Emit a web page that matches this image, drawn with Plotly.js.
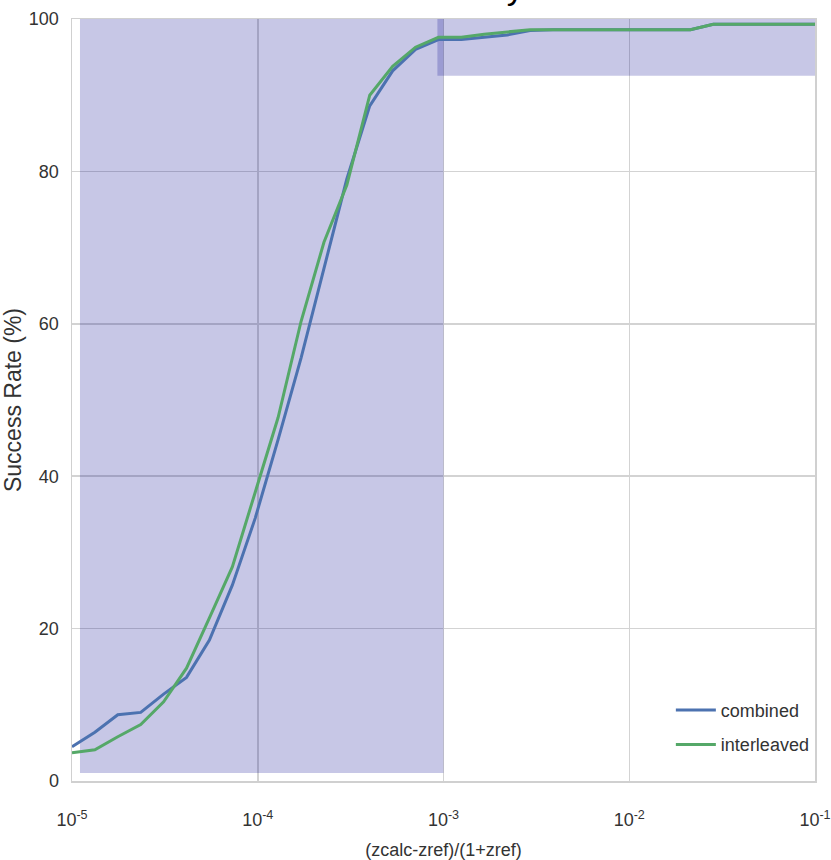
<!DOCTYPE html>
<html>
<head>
<meta charset="utf-8">
<script src="https://cdn.plot.ly/plotly-3.0.1.min.js"></script>
<style>
  html, body { margin: 0; padding: 0; background: #ffffff; }
  #chart { width: 831px; height: 860px; }
</style>
</head>
<body>
<div id="chart"></div>
<script>
// x: (zcalc-zref)/(1+zref), log-spaced sample points
const xValues = [
  1.000e-5, 1.328e-5, 1.764e-5, 2.344e-5, 3.113e-5, 4.135e-5, 5.493e-5, 7.297e-5,
  9.692e-5, 1.287e-4, 1.710e-4, 2.272e-4, 3.017e-4, 4.008e-4, 5.324e-4, 7.072e-4,
  9.393e-4, 1.248e-3, 1.657e-3, 2.201e-3, 2.924e-3, 3.884e-3, 5.159e-3, 6.853e-3,
  9.104e-3, 1.209e-2, 1.606e-2, 2.134e-2, 2.834e-2, 3.765e-2, 5.000e-2, 6.643e-2,
  8.824e-2, 1.172e-1
];
const combined = [
  4.5, 6.4, 8.7, 9.0, 11.4, 13.6, 18.5, 25.7,
  34.5, 44.8, 55.5, 67.2, 79.0, 88.6, 93.2, 96.0,
  97.3, 97.3, 97.6, 97.9, 98.5, 98.6, 98.6, 98.6,
  98.6, 98.6, 98.6, 98.6, 99.3, 99.3, 99.3, 99.3,
  99.3, 99.3
];
const interleaved = [
  3.7, 4.1, 5.8, 7.4, 10.4, 14.8, 21.4, 28.1,
  37.9, 47.7, 60.3, 70.7, 78.2, 90.0, 93.8, 96.3,
  97.6, 97.6, 98.0, 98.3, 98.6, 98.6, 98.6, 98.6,
  98.6, 98.6, 98.6, 98.6, 99.3, 99.3, 99.3, 99.3,
  99.3, 99.3
];
const seriesNames = ['combined', 'interleaved'];
const xTickVals = [1e-5, 1e-4, 1e-3, 1e-2, 1e-1];
const xTickText = ['10<sup>-5</sup>', '10<sup>-4</sup>', '10<sup>-3</sup>', '10<sup>-2</sup>', '10<sup>-1</sup>'];
const yTickVals = [0, 20, 40, 60, 80, 100];
const titleText = 'Accuracy';
// shaded spans: [x0, x1, y0, y1]
const spanLeft = [1.104e-5, 1e-3, 1.05, 100];
const spanTop = [9.27e-4, 1e-1, 92.56, 100];

const font = 'Liberation Sans, Arial, sans-serif';
const shade = 'rgba(0,0,139,0.22)';

const traces = [
  { x: xValues, y: combined, name: seriesNames[0], legendgroup: 'a', type: 'scatter', mode: 'lines',
    line: { color: '#4C72B0', width: 3 } },
  { x: xValues, y: interleaved, name: seriesNames[1], legendgroup: 'b', type: 'scatter', mode: 'lines',
    line: { color: '#55A868', width: 3 } }
];

function span(s) {
  return { type: 'rect', xref: 'x', yref: 'y', x0: s[0], x1: s[1], y0: s[2], y1: s[3],
    fillcolor: shade, line: { width: 0 }, layer: 'between' };
}

const layout = {
  width: 831, height: 860,
  margin: { l: 72, r: 16, t: 19, b: 79, pad: 0 },
  paper_bgcolor: '#ffffff', plot_bgcolor: '#ffffff',
  showlegend: true,
  legend: {
    x: 0.806, y: 0.117, xanchor: 'left', yanchor: 'top',
    bgcolor: 'rgba(0,0,0,0)', borderwidth: 0,
    traceorder: 'grouped', tracegroupgap: 8,
    font: { family: font, size: 18, color: '#333333' },
    itemwidth: 40
  },
  xaxis: {
    type: 'log', range: [-5, -1],
    tickvals: xTickVals, ticktext: xTickText,
    showgrid: true, gridcolor: '#d3d3d3', gridwidth: 1.5,
    showline: true, mirror: true, linecolor: '#d0d0d0', linewidth: 1.5,
    zeroline: false, ticks: '', ticklabelstandoff: 22,
    tickfont: { family: font, size: 18, color: '#333333' },
    title: { text: '(zcalc-zref)/(1+zref)', standoff: 14,
      font: { family: font, size: 18, color: '#333333' } }
  },
  yaxis: {
    range: [0, 100], tickvals: yTickVals,
    showgrid: true, gridcolor: '#d3d3d3', gridwidth: 1.5,
    showline: true, mirror: true, linecolor: '#d0d0d0', linewidth: 1.5,
    zeroline: false, ticks: '', ticklabelstandoff: 8,
    tickfont: { family: font, size: 18, color: '#333333' },
    title: { text: 'Success Rate (%)', standoff: 3,
      font: { family: font, size: 23, color: '#333333' } }
  },
  shapes: [span(spanLeft), span(spanTop)],
  annotations: [{
    text: titleText, xref: 'paper', yref: 'paper', x: 0.5, y: 1,
    xanchor: 'center', yanchor: 'bottom', yshift: 11, xshift: 10, showarrow: false,
    font: { family: font, size: 34, color: '#000000' }
  }]
};

Plotly.newPlot('chart', traces, layout, { staticPlot: true, displayModeBar: false });
</script>
</body>
</html>
